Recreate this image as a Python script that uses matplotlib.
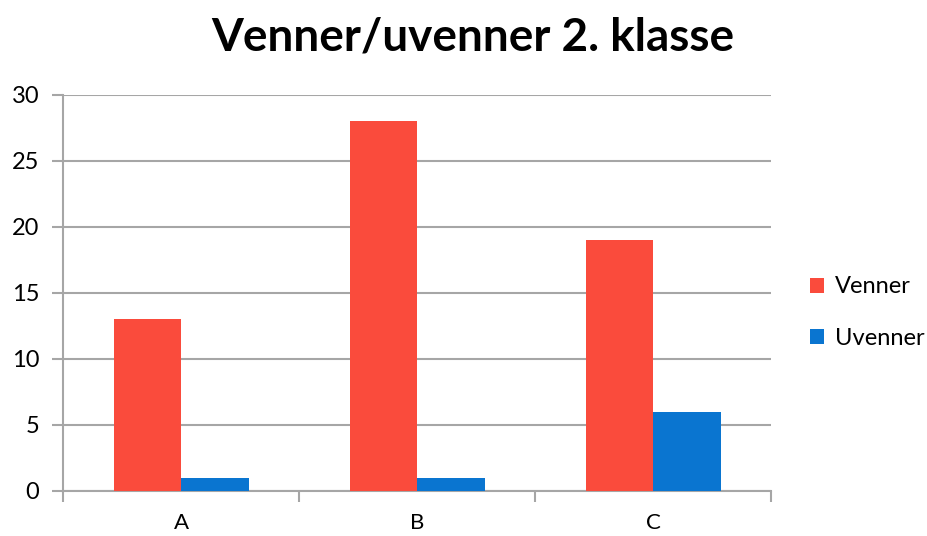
import matplotlib.pyplot as plt
import numpy as np
from matplotlib import rcParams

rcParams["font.family"] = ["Lato", "DejaVu Sans"]

# data
categories = ["A", "B", "C"]
venner = [13, 28, 19]
uvenner = [1, 1, 6]

red = "#FA4B3C"
blue = "#0A75D0"
grid_col = "#A6A6A6"

fig = plt.figure(figsize=(9.28, 5.36), dpi=100)
ax = fig.add_axes([0.068, 0.084, 0.763, 0.739])

x = np.arange(len(categories))
w = 0.2857
ax.bar(x - w / 2, venner, w, color=red, label="Venner", zorder=3)
ax.bar(x + w / 2, uvenner, w, color=blue, label="Uvenner", zorder=3)

ax.set_xlim(-0.5, len(categories) - 0.5)
ax.set_ylim(0, 30)
ax.set_yticks(range(0, 31, 5))
ax.yaxis.grid(True, color=grid_col, lw=1.5, zorder=0)

# category labels between boundary ticks
ax.set_xticks(np.arange(-0.5, len(categories), 1))
ax.set_xticklabels([])
ax.set_xticks(x, minor=True)
ax.set_xticklabels(categories, minor=True)
ax.tick_params(axis="x", which="minor", length=0, pad=16, labelsize=16)
ax.tick_params(axis="x", which="major", length=8, width=1.5, color=grid_col)
ax.tick_params(axis="y", length=8, width=1.5, color=grid_col, labelsize=17, pad=9)

for s in ["top", "right"]:
    ax.spines[s].set_visible(False)
for s in ["left", "bottom"]:
    ax.spines[s].set_color(grid_col)
    ax.spines[s].set_linewidth(1.5)

fig.suptitle("Venner/uvenner 2. klasse", x=0.51, y=0.97, fontsize=33,
             fontweight="bold")

ax.legend(loc="center left", bbox_to_anchor=(1.025, 0.45), frameon=False,
          fontsize=17, handlelength=0.6, handleheight=0.6, handletextpad=0.45,
          labelspacing=1.3)

fig.savefig("out.png", dpi=100)
